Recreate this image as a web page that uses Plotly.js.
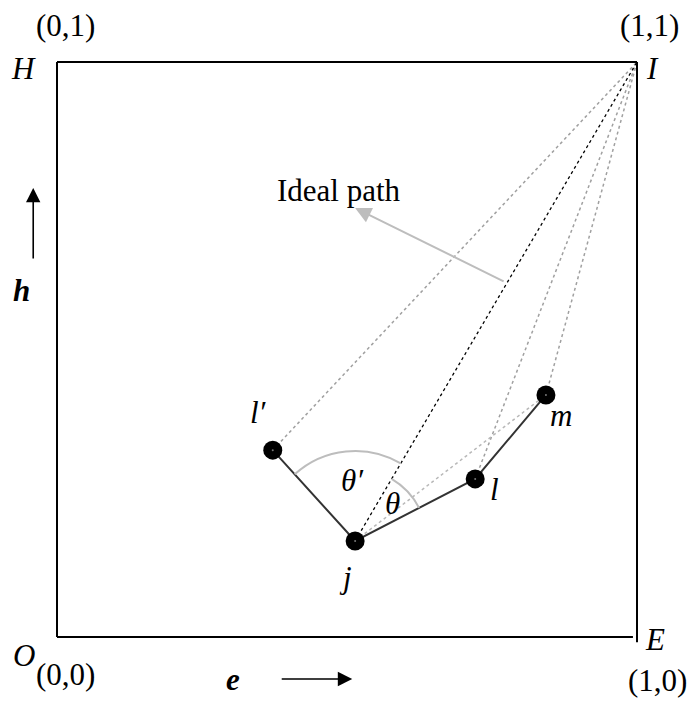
<!DOCTYPE html>
<html>
<head>
<meta charset="utf-8">
<script src="https://cdn.plot.ly/plotly-3.0.1.min.js"></script>
<style>html,body{margin:0;padding:0;background:#fff;}#chart{width:689px;height:701px;}</style>
</head>
<body>
<div id="chart"></div>
<script>
// ---- data ----
const pointNames = ["l′", "j", "l", "m"];
const pointX = [0.372, 0.514, 0.721, 0.843];
const pointY = [0.325, 0.167, 0.275, 0.421];
const idealX = 1, idealY = 1;
const cornerLabels = ["(0,1)", "(1,1)", "(0,0)", "(1,0)"];
const cornerNames = ["H", "I", "O", "E"];
const angleLabels = ["θ′", "θ"];
const pathLabel = "Ideal path";
const axisLabels = ["h", "e"];

// ---- layout geometry ----
const W = 689, H = 701;
const mL = 57, mR = 52, mT = 62, mB = 64;
const pw = W - mL - mR, ph = H - mT - mB;
const serif = "Liberation Serif, Times New Roman, serif";
const fs = 31;

function px(x, y) { return [x * pw, -y * ph]; }
function toData(p) { return [p[0] / pw, -p[1] / ph]; }

const L1 = 0, J = 1, Lp = 2, M = 3;
const traces = [];

[L1, Lp, M].forEach(i => {
  traces.push({x: [pointX[i], idealX], y: [pointY[i], idealY], mode: 'lines',
    line: {color: '#a0a0a0', width: 1.5, dash: 'dot'}, hoverinfo: 'skip'});
});
traces.push({x: [pointX[J], pointX[M]], y: [pointY[J], pointY[M]], mode: 'lines',
  line: {color: '#b8b8b8', width: 1.5, dash: 'dot'}, hoverinfo: 'skip'});
traces.push({x: [pointX[J], idealX], y: [pointY[J], idealY], mode: 'lines',
  line: {color: '#000', width: 1.3, dash: 'dot'}, hoverinfo: 'skip'});

traces.push({x: pointX, y: pointY, mode: 'lines',
  line: {color: '#333', width: 2}, hoverinfo: 'skip'});
traces.push({x: pointX, y: pointY, mode: 'markers',
  marker: {color: '#000', size: 19}, hoverinfo: 'skip', cliponaxis: false});
traces.push({x: pointX, y: pointY, mode: 'markers',
  marker: {color: '#777', size: 2}, hoverinfo: 'skip', cliponaxis: false});

function ang(tx, ty) {
  const a = px(pointX[J], pointY[J]);
  const b = px(tx, ty);
  return Math.atan2(b[1] - a[1], b[0] - a[0]);
}
function arcPath(a0, a1, r) {
  const c = px(pointX[J], pointY[J]);
  const d = a1 - a0;
  const k = 4 / 3 * Math.tan(d / 4) * r;
  const p0 = [c[0] + r * Math.cos(a0), c[1] + r * Math.sin(a0)];
  const p3 = [c[0] + r * Math.cos(a1), c[1] + r * Math.sin(a1)];
  const p1 = [p0[0] - k * Math.sin(a0), p0[1] + k * Math.cos(a0)];
  const p2 = [p3[0] + k * Math.sin(a1), p3[1] - k * Math.cos(a1)];
  const q = [p0, p1, p2, p3].map(toData);
  return `M ${q[0][0]},${q[0][1]} C ${q[1][0]},${q[1][1]} ${q[2][0]},${q[2][1]} ${q[3][0]},${q[3][1]}`;
}
const aI = ang(idealX, idealY);
const aL1 = ang(pointX[L1], pointY[L1]);
const aLp = ang(pointX[Lp], pointY[Lp]);

const frame = {color: '#000', width: 2};
const shapes = [
  {type: 'path', xref: 'x', yref: 'y', path: arcPath(aL1, aI, 90), line: {color: '#bdbdbd', width: 2}},
  {type: 'path', xref: 'x', yref: 'y', path: arcPath(aI, aLp, 72), line: {color: '#bdbdbd', width: 2}},
  {type: 'line', xref: 'paper', yref: 'paper', x0: 0, y0: 0, x1: 0, y1: 1, line: frame},
  {type: 'line', xref: 'paper', yref: 'paper', x0: 0, y0: 1, x1: 1, y1: 1, line: frame},
  {type: 'line', xref: 'paper', yref: 'paper', x0: 0, y0: 0, x1: 0.993, y1: 0, line: frame},
  {type: 'line', xref: 'paper', yref: 'paper', x0: 1, y0: -0.009, x1: 1, y1: 1, line: frame}
];

function txt(x, y, t, opts) {
  return Object.assign({x: x, y: y, xref: 'paper', yref: 'paper', text: t, showarrow: false,
    font: {family: serif, size: fs, color: '#000'}, xanchor: 'center', yanchor: 'middle'}, opts || {});
}
const annotations = [
  txt(0.0155, 1.064, cornerLabels[0]),
  txt(1.021, 1.064, cornerLabels[1]),
  txt(0.0155, -0.066, cornerLabels[2]),
  txt(1.036, -0.075, cornerLabels[3]),
  txt(-0.057, 0.988, '<i>' + cornerNames[0] + '</i>'),
  txt(1.026, 0.988, '<i>' + cornerNames[1] + '</i>'),
  txt(-0.057, -0.033, '<i>' + cornerNames[2] + '</i>'),
  txt(1.031, -0.005, '<i>' + cornerNames[3] + '</i>'),
  txt(-0.062, 0.602, '<b><i>' + axisLabels[0] + '</i></b>'),
  txt(0.303, -0.1085, '<b><i>' + axisLabels[1] + '</i></b>', {yanchor: 'bottom'}),
  txt(pointX[L1] - 0.025, pointY[L1] + 0.065, '<i>' + pointNames[L1] + '</i>'),
  txt(pointX[J] - 0.017, pointY[J] - 0.064, '<i>' + pointNames[J] + '</i>'),
  txt(pointX[Lp] + 0.034, pointY[Lp] - 0.019, '<i>' + pointNames[Lp] + '</i>'),
  txt(pointX[M] + 0.026, pointY[M] - 0.035, '<i>' + pointNames[M] + '</i>'),
  txt(0.510, 0.273, '<i>' + angleLabels[0] + '</i>'),
  txt(0.578, 0.233, '<i>' + angleLabels[1] + '</i>'),
  txt(0.486, 0.777, pathLabel),
  {x: 0.514, y: 0.746, xref: 'paper', yref: 'paper', ax: 150, ay: 74,
   text: '', showarrow: true, arrowhead: 2, arrowsize: 1.6, arrowwidth: 2, arrowcolor: '#bdbdbd'},
  {x: -0.041, y: 0.781, xref: 'paper', yref: 'paper', ax: 0, ay: 72,
   text: '', showarrow: true, arrowhead: 2, arrowsize: 1.8, arrowwidth: 1.6, arrowcolor: '#000'},
  {x: 0.509, y: -0.073, xref: 'paper', yref: 'paper', ax: -72, ay: 0,
   text: '', showarrow: true, arrowhead: 2, arrowsize: 1.8, arrowwidth: 1.6, arrowcolor: '#000'}
];

const layout = {
  width: W, height: H,
  margin: {l: mL, r: mR, t: mT, b: mB, pad: 0},
  paper_bgcolor: '#fff', plot_bgcolor: '#fff',
  showlegend: false,
  xaxis: {range: [0, 1], visible: false, fixedrange: true},
  yaxis: {range: [0, 1], visible: false, fixedrange: true},
  shapes: shapes,
  annotations: annotations
};
Plotly.newPlot('chart', traces, layout, {displayModeBar: false, staticPlot: true});
</script>
</body>
</html>
